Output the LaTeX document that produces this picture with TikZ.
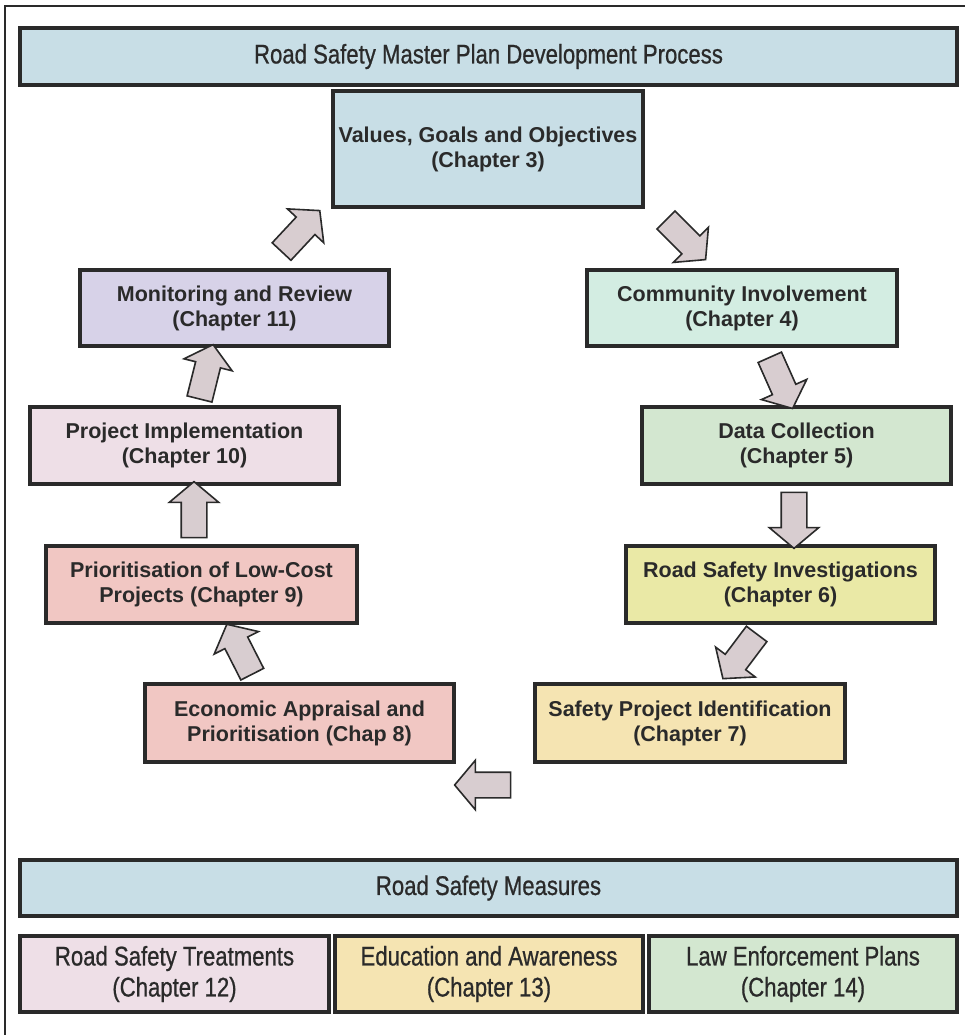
\documentclass[tikz,border=0pt]{standalone}
\usepackage{fontspec}
\setmainfont{Liberation Sans}
\newfontfamily\narrowfont[FakeStretch=0.82,FakeBold=0.7]{Liberation Sans}
\usetikzlibrary{shapes.arrows}
\definecolor{cblue}{HTML}{C8DEE6}
\definecolor{clav}{HTML}{D7D2E8}
\definecolor{cmint}{HTML}{D3EDE2}
\definecolor{cgreen}{HTML}{D3E7D0}
\definecolor{cpink}{HTML}{EEDFE7}
\definecolor{csalmon}{HTML}{F1C7C3}
\definecolor{cyellow}{HTML}{EAE9A6}
\definecolor{ctan}{HTML}{F5E4B2}
\definecolor{carrow}{HTML}{D8CDD0}
\definecolor{cline}{HTML}{2A2A2A}
\tikzset{
  box/.style={draw=cline, line width=3.2pt, rectangle, align=center, inner sep=0pt,
    font=\bfseries\fontsize{21.5}{25}\selectfont, text=cline},
  nbox/.style={draw=cline, line width=3.2pt, rectangle, align=center, inner sep=0pt,
    font=\narrowfont\fontsize{27}{31}\selectfont, text=cline},
  barrow/.style={single arrow, draw=cline, line width=1.6pt, fill=carrow,
    inner sep=12pt, single arrow head extend=12pt, single arrow tip angle=100,
    minimum height=56pt}
}
\begin{document}
\begin{tikzpicture}[x=1pt,y=-1pt]
\useasboundingbox (0,0) rectangle (965,1035);
\fill[white] (0,0) rectangle (965,1035);
% outer frame
\draw[cline, line width=1.4pt] (5,1036) -- (5,6) -- (966,6);
% boxes
\node[nbox, fill=cblue, minimum width=937pt, minimum height=57pt] (title) at (488.5,56.5) {Road Safety Master Plan Development Process};
\node[box, fill=cblue, minimum width=310pt, minimum height=116pt] (values) at (488,149) {Values, Goals and Objectives\\(Chapter 3)};
\node[box, fill=clav, minimum width=309pt, minimum height=76pt] (monitor) at (234.5,308) {Monitoring and Review\\(Chapter 11)};
\node[box, fill=cmint, minimum width=310pt, minimum height=76pt] (community) at (742,308) {Community Involvement\\(Chapter 4)};
\node[box, fill=cpink, minimum width=309pt, minimum height=77pt] (implement) at (184.5,445.5) {Project Implementation\\(Chapter 10)};
\node[box, fill=cgreen, minimum width=309pt, minimum height=77pt] (data) at (796.5,445.5) {Data Collection\\(Chapter 5)};
\node[box, fill=csalmon, minimum width=311pt, minimum height=77pt] (prior) at (201.5,584.5) {Prioritisation of Low-Cost\\Projects (Chapter 9)};
\node[box, fill=cyellow, minimum width=309pt, minimum height=77pt] (invest) at (780.5,584.5) {Road Safety Investigations\\(Chapter 6)};
\node[box, fill=csalmon, minimum width=309pt, minimum height=78pt] (econ) at (299.5,723) {Economic Appraisal and\\Prioritisation (Chap 8)};
\node[box, fill=ctan, minimum width=310pt, minimum height=78pt] (safety) at (690,723) {Safety Project Identification\\(Chapter 7)};
\node[nbox, fill=cblue, minimum width=937pt, minimum height=56pt] (measures) at (488.5,888) {Road Safety Measures};
\node[nbox, fill=cpink, minimum width=309pt, minimum height=76pt] (treat) at (174.5,974) {Road Safety Treatments\\(Chapter 12)};
\node[nbox, fill=ctan, minimum width=308pt, minimum height=76pt] (educ) at (489,974) {Education and Awareness\\(Chapter 13)};
\node[nbox, fill=cgreen, minimum width=308pt, minimum height=76pt] (law) at (803,974) {Law Enforcement Plans\\(Chapter 14)};
% block arrows
\node[barrow, rotate=-45] (a1) at (682,236) {};
\node[barrow, rotate=-66] (a2) at (779,378) {};
\node[barrow, rotate=-90] (a3) at (794,515) {};
\node[barrow, rotate=-127] (a4) at (743,652) {};
\node[barrow, rotate=180] (a5) at (488,785) {};
\node[barrow, rotate=117] (a6) at (242,654) {};
\node[barrow, rotate=90] (a7) at (194,515) {};
\node[barrow, rotate=76] (a8) at (205,377) {};
\node[barrow, rotate=47] (a9) at (297,235) {};
\end{tikzpicture}
\end{document}
